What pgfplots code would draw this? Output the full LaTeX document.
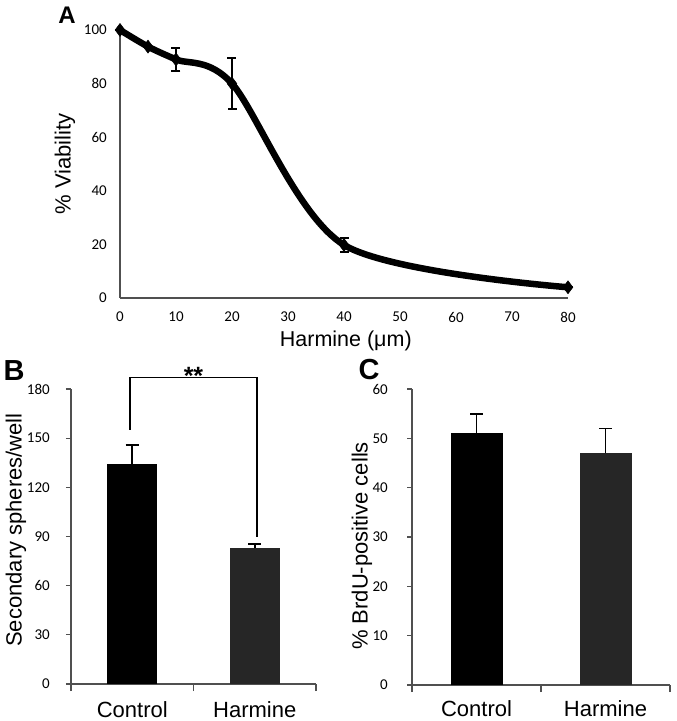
\documentclass[border=0pt]{standalone}
\usepackage{pgfplots}
\pgfplotsset{compat=1.18}
\usepackage{fontspec}
\setmainfont{Liberation Sans}
\newfontfamily\carlito{Carlito}
\definecolor{barg}{RGB}{38,38,38}
\definecolor{axg}{RGB}{80,80,80}
\begin{document}
\begin{tikzpicture}
\useasboundingbox (0pt,0pt) rectangle (677pt,721pt);
\pgfplotsset{
  every axis/.append style={
    scale only axis, clip=false,
    axis line style={draw=axg, line width=1.3pt},
    tick style={draw=axg, line width=1.2pt},
    /pgf/number format/assume math mode=true,
    tick label style={font=\carlito\fontsize{15}{17}\selectfont},
    label style={font=\fontsize{22}{24}\selectfont},
    axis x line*=bottom, axis y line*=left,
  },
}
% ---------------- Panel A ----------------
\begin{axis}[at={(120pt,423pt)}, anchor=south west, width=448pt, height=268pt,
  xmin=0, xmax=80, ymin=0, ymax=100,
  xtick={0,10,...,80}, ytick={0,20,...,100},
  major tick length=0pt,
  xticklabel style={anchor=center, yshift=-19pt},
  yticklabel style={anchor=east, inner sep=0pt, xshift=-13pt},
  xlabel={Harmine (μm)}, ylabel={\% Viability},
  xlabel style={at={(axis description cs:0.504,-0.160)}, anchor=center, font=\fontsize{21.5}{24}\selectfont},
  ylabel style={at={(axis description cs:-0.123,0.5)}, anchor=center},
]
\addplot[black, line width=6.5pt, smooth, tension=0.5,
  mark=diamond*, mark size=6.5pt, mark options={line width=0.5pt},
  error bars/.cd, y dir=both, y explicit,
  error bar style={line width=1.8pt},
  error mark options={rotate=90, line width=1.8pt, mark size=4.5pt}]
  table[x=x, y=y, y error=e] {
x y e
0 100 0
5 93.8 0
10 89 4.2
20 80 9.6
40 19.8 2.6
80 4 0
};
\end{axis}
% ---------------- Panel B ----------------
\begin{axis}[at={(71pt,37pt)}, anchor=south west, width=245pt, height=295pt,
  xmin=-0.5, xmax=1.5, ymin=0, ymax=180,
  ytick={0,30,...,180},
  xtick={0,1}, xticklabels={Control,Harmine},
  xtick style={draw=none},
  extra x ticks={-0.5,0.5,1.5}, extra x tick labels={},
  extra x tick style={xtick style={draw=axg, line width=1.2pt}, major tick length=7pt, tick align=outside},
  ytick align=outside, major tick length=5pt,
  xticklabel style={anchor=center, yshift=-26pt, font=\fontsize{22}{24}\selectfont},
  yticklabel style={anchor=east, inner sep=0pt, xshift=-16pt},
  ylabel={Secondary spheres/well},
  ylabel style={at={(axis description cs:-0.2245,0.522)}, anchor=center},
]
\addplot[ybar, bar width=50pt, bar shift=0pt, fill=black, draw=none,
  error bars/.cd, y dir=plus, y explicit,
  error bar style={black, line width=1.8pt},
  error mark options={rotate=90, black, line width=1.8pt, mark size=6.5pt}]
  coordinates {(0,134) +- (0,11.8)};
\addplot[ybar, bar width=50pt, bar shift=0pt, fill=barg, draw=none,
  error bars/.cd, y dir=plus, y explicit,
  error bar style={black, line width=1.8pt},
  error mark options={rotate=90, black, line width=1.8pt, mark size=6.5pt}]
  coordinates {(1,82.8) +- (0,2.8)};
\draw[black, line width=1.8pt] (axis cs:-0.02,155) -- (axis cs:-0.02,187) -- (axis cs:1.02,187) -- (axis cs:1.02,90);
\node[font=\bfseries\fontsize{25}{27}\selectfont] at (axis cs:0.5,188) {**};
\end{axis}
% ---------------- Panel C ----------------
\begin{axis}[at={(412pt,36pt)}, anchor=south west, width=258pt, height=296pt,
  xmin=-0.5, xmax=1.5, ymin=0, ymax=60,
  ytick={0,10,...,60},
  xtick={0,1}, xticklabels={Control,Harmine},
  xtick style={draw=none},
  extra x ticks={-0.5,0.5,1.5}, extra x tick labels={},
  extra x tick style={xtick style={draw=axg, line width=1.2pt}, major tick length=7pt, tick align=outside},
  ytick align=outside, major tick length=5pt,
  xticklabel style={anchor=center, yshift=-24pt, font=\fontsize{22}{24}\selectfont},
  yticklabel style={anchor=east, inner sep=0pt, xshift=-19pt},
  ylabel={\% BrdU-positive cells},
  ylabel style={at={(axis description cs:-0.194,0.47)}, anchor=center},
]
\addplot[ybar, bar width=52pt, bar shift=0pt, fill=black, draw=none,
  error bars/.cd, y dir=plus, y explicit,
  error bar style={black, line width=1.8pt},
  error mark options={rotate=90, black, line width=1.8pt, mark size=6.5pt}]
  coordinates {(0,51) +- (0,4)};
\addplot[ybar, bar width=52pt, bar shift=0pt, fill=barg, draw=none,
  error bars/.cd, y dir=plus, y explicit,
  error bar style={black, line width=1.8pt},
  error mark options={rotate=90, black, line width=1.8pt, mark size=6.5pt}]
  coordinates {(1,47) +- (0,5)};
\end{axis}
% panel letters
\node[font=\bfseries\fontsize{24}{26}\selectfont, inner sep=0pt] at (67pt,706pt) {A};
\node[font=\bfseries\fontsize{29}{31}\selectfont, inner sep=0pt] at (14pt,350pt) {B};
\node[font=\bfseries\fontsize{29}{31}\selectfont, inner sep=0pt] at (369pt,351pt) {C};
\end{tikzpicture}
\end{document}
